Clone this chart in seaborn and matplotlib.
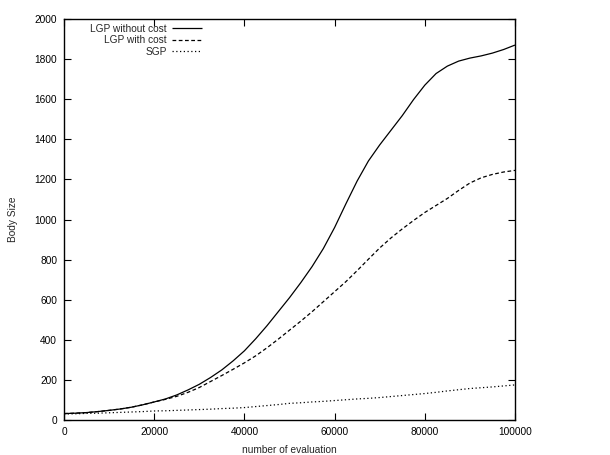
import matplotlib
matplotlib.use("Agg")
import matplotlib.pyplot as plt
import seaborn as sns
import pandas as pd

evaluations = [0, 2500, 5000, 7500, 10000, 12500, 15000, 17500, 20000, 22500, 25000,
               27500, 30000, 32500, 35000, 37500, 40000, 42500, 45000, 47500, 50000,
               52500, 55000, 57500, 60000, 62500, 65000, 67500, 70000, 72500, 75000,
               77500, 80000, 82500, 85000, 87500, 90000, 92500, 95000, 97500, 100000]
lgp_without_cost = [32, 34, 37, 42, 48, 55, 64, 76, 90, 105, 125,
                    150, 178, 212, 250, 295, 345, 405, 470, 540, 610,
                    685, 765, 855, 960, 1078, 1192, 1292, 1372, 1445, 1518,
                    1598, 1670, 1728, 1765, 1790, 1805, 1816, 1830, 1848, 1870]
lgp_with_cost = [32, 34, 37, 42, 48, 55, 64, 76, 90, 103, 118,
                 138, 162, 192, 222, 253, 285, 320, 360, 403, 448,
                 493, 540, 590, 640, 690, 745, 802, 858, 908, 953,
                 995, 1035, 1070, 1105, 1145, 1182, 1208, 1225, 1237, 1245]
sgp = [30, 31, 33, 34, 36, 38, 40, 42, 45, 46, 48,
       50, 52, 54, 57, 59, 62, 67, 72, 77, 83,
       86, 90, 93, 97, 101, 105, 108, 112, 117, 122,
       127, 132, 138, 145, 151, 157, 161, 165, 170, 175]

series_names = ["LGP without cost", "LGP with cost", "SGP"]

sns.set_theme(style="white")
plt.rcParams["font.family"] = ["Liberation Sans", "DejaVu Sans"]

df = pd.DataFrame({
    "evaluation": evaluations * 3,
    "size": lgp_without_cost + lgp_with_cost + sgp,
    "series": sum([[n] * len(evaluations) for n in series_names], []),
})

fig = plt.figure(figsize=(6.1, 4.55), dpi=100)
ax = fig.add_axes([64 / 610, 1 - 420 / 455, (515 - 64) / 610, (420 - 19) / 455])

styles = {"LGP without cost": (0, ()), "LGP with cost": (0, (3, 2)), "SGP": (0, (1, 2))}
for name in series_names:
    sub = df[df["series"] == name]
    sns.lineplot(data=sub, x="evaluation", y="size", ax=ax, color="black",
                 linewidth=0.9, linestyle=styles[name], label=name)

fs = 7.3
ax.set_xlim(0, 100000)
ax.set_ylim(0, 2000)
ax.set_xticks(range(0, 100001, 20000))
ax.set_yticks(range(0, 2001, 200))
ax.set_xlabel("number of evaluation", fontsize=fs, labelpad=6)
ax.set_ylabel("Body Size", fontsize=fs, labelpad=12)
ax.tick_params(direction="in", length=5, width=0.8, labelsize=fs, top=True, right=True,
               bottom=True, left=True, colors="black", pad=5)
for s in ax.spines.values():
    s.set_color("black")
    s.set_linewidth(1.0)

leg = ax.legend(loc="upper right", bbox_to_anchor=(0.306, 0.988), frameon=False,
                markerfirst=False, fontsize=fs, handlelength=3.0, labelspacing=0.15,
                handletextpad=0.5, borderaxespad=0.0, borderpad=0.0)
fig.savefig("out.png", dpi=100)
